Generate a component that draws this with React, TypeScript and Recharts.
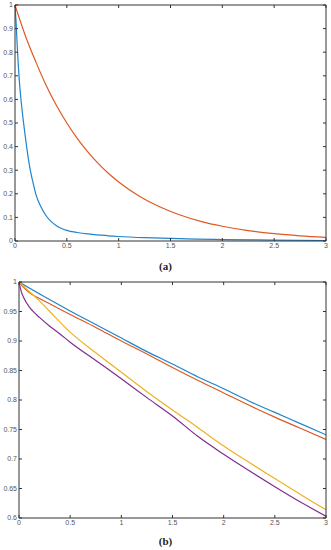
import { LineChart, Line, XAxis, YAxis } from 'recharts';

// panel (a)
const aBlueX = [0, 0.01, 0.02, 0.03, 0.04, 0.06, 0.08, 0.1, 0.125, 0.15, 0.175, 0.2, 0.25, 0.3, 0.35, 0.4, 0.45, 0.5, 0.6, 0.7, 0.8, 0.9, 1, 1.25, 1.5, 1.75, 2, 2.5, 3];
const aBlueY = [1, 0.93, 0.84, 0.76, 0.69, 0.59, 0.51, 0.44, 0.36, 0.295, 0.245, 0.2, 0.145, 0.107, 0.082, 0.065, 0.053, 0.045, 0.036, 0.03, 0.026, 0.022, 0.019, 0.014, 0.011, 0.008, 0.006, 0.004, 0.002];
const aOrangeX = [0, 0.1, 0.2, 0.3, 0.4, 0.5, 0.6, 0.7, 0.8, 0.9, 1, 1.2, 1.4, 1.6, 1.8, 2, 2.25, 2.5, 2.75, 3];
const aOrangeY = [1, 0.87, 0.76, 0.66, 0.574, 0.5, 0.435, 0.379, 0.33, 0.287, 0.25, 0.19, 0.144, 0.109, 0.082, 0.0625, 0.044, 0.031, 0.022, 0.0156];

// panel (b)
const bBlueX = [0, 0.25, 0.5, 0.75, 1, 1.25, 1.5, 1.75, 2, 2.25, 2.5, 2.75, 3];
const bBlueY = [1, 0.975, 0.951, 0.928, 0.905, 0.882, 0.861, 0.839, 0.819, 0.798, 0.779, 0.76, 0.741];
const bOrangeX = [0, 0.05, 0.1, 0.2, 0.3, 0.5, 0.75, 1, 1.25, 1.5, 1.75, 2, 2.25, 2.5, 2.75, 3];
const bOrangeY = [1, 0.99, 0.982, 0.972, 0.963, 0.945, 0.923, 0.9, 0.878, 0.855, 0.833, 0.812, 0.791, 0.771, 0.752, 0.733];
const bYellowX = [0, 0.1, 0.2, 0.3, 0.5, 0.75, 1, 1.25, 1.5, 1.75, 2, 2.25, 2.5, 2.75, 3];
const bYellowY = [1, 0.984, 0.968, 0.95, 0.915, 0.88, 0.847, 0.814, 0.783, 0.753, 0.722, 0.694, 0.667, 0.64, 0.614];
const bPurpleX = [0, 0.02, 0.05, 0.1, 0.15, 0.2, 0.3, 0.4, 0.5, 0.75, 1, 1.25, 1.5, 1.75, 2, 2.25, 2.5, 2.75, 3];
const bPurpleY = [1, 0.985, 0.972, 0.958, 0.948, 0.94, 0.925, 0.912, 0.898, 0.867, 0.836, 0.804, 0.773, 0.738, 0.708, 0.68, 0.653, 0.627, 0.603];

const xTicks = [0, 0.5, 1, 1.5, 2, 2.5, 3];
const aYTicks = [0, 0.1, 0.2, 0.3, 0.4, 0.5, 0.6, 0.7, 0.8, 0.9, 1];
const bYTicks = [0.6, 0.65, 0.7, 0.75, 0.8, 0.85, 0.9, 0.95, 1];

const toPoints = (xs: number[], ys: number[]) => xs.map((x, i) => ({ x, y: ys[i] }));

const BLUE = '#1f84cc';
const ORANGE = '#dc5a22';
const YELLOW = '#edb120';
const PURPLE = '#7e2f8e';
const AXIS = '#333';
const tickStyle = { fontSize: 7, fill: '#555', fontFamily: 'Liberation Sans, Arial, sans-serif' };

type Series = { xs: number[]; ys: number[]; color: string };

const Panel = ({ series, yTicks, yDomain, yWidth }: { series: Series[]; yTicks: number[]; yDomain: [number, number]; yWidth: number }) => (
  <LineChart width={331} height={255} margin={{ top: 4, right: 4, bottom: 0, left: 0 }}>
    <XAxis
      xAxisId="b"
      dataKey="x"
      type="number"
      domain={[0, 3]}
      ticks={xTicks}
      tickSize={-3}
      tickMargin={5}
      height={14}
      stroke={AXIS}
      tick={tickStyle}
      allowDataOverflow
    />
    <XAxis
      xAxisId="t"
      orientation="top"
      dataKey="x"
      type="number"
      domain={[0, 3]}
      ticks={xTicks}
      tickSize={-3}
      height={1}
      stroke={AXIS}
      tickFormatter={() => ''}
      allowDataOverflow
    />
    <YAxis
      yAxisId="l"
      type="number"
      domain={yDomain}
      ticks={yTicks}
      tickSize={-3}
      tickMargin={5}
      width={yWidth}
      stroke={AXIS}
      tick={tickStyle}
      allowDataOverflow
    />
    <YAxis
      yAxisId="r"
      orientation="right"
      type="number"
      domain={yDomain}
      ticks={yTicks}
      tickSize={-3}
      width={1}
      stroke={AXIS}
      tickFormatter={() => ''}
      allowDataOverflow
    />
    {/* invisible series so the top and right axes have something bound to them */}
    <Line
      xAxisId="t"
      yAxisId="r"
      data={toPoints(series[0].xs, series[0].ys)}
      dataKey="y"
      stroke="none"
      dot={false}
      activeDot={false}
      isAnimationActive={false}
    />
    {series.map((s, i) => (
      <Line
        key={i}
        xAxisId="b"
        yAxisId="l"
        data={toPoints(s.xs, s.ys)}
        dataKey="y"
        type="monotone"
        stroke={s.color}
        strokeWidth={1.2}
        dot={false}
        isAnimationActive={false}
      />
    ))}
  </LineChart>
);

const captionStyle: React.CSSProperties = {
  position: 'absolute',
  width: 331,
  textAlign: 'center',
  fontFamily: 'Liberation Serif, DejaVu Serif, serif',
  fontWeight: 'bold',
  fontSize: 11,
  color: '#222',
};

export default function App() {
  return (
    <div style={{ position: 'absolute', left: 0, top: 0, width: 331, height: 550, background: '#fff' }}>
      <div style={{ position: 'absolute', left: 0, top: 0 }}>
        <Panel
          series={[
            { xs: aOrangeX, ys: aOrangeY, color: ORANGE },
            { xs: aBlueX, ys: aBlueY, color: BLUE },
          ]}
          yTicks={aYTicks}
          yDomain={[0, 1]}
          yWidth={15}
        />
      </div>
      <div style={{ ...captionStyle, top: 260 }}>(a)</div>
      <div style={{ position: 'absolute', left: 0, top: 277 }}>
        <Panel
          series={[
            { xs: bBlueX, ys: bBlueY, color: BLUE },
            { xs: bOrangeX, ys: bOrangeY, color: ORANGE },
            { xs: bYellowX, ys: bYellowY, color: YELLOW },
            { xs: bPurpleX, ys: bPurpleY, color: PURPLE },
          ]}
          yTicks={bYTicks}
          yDomain={[0.6, 1]}
          yWidth={19}
        />
      </div>
      <div style={{ ...captionStyle, top: 535 }}>(b)</div>
    </div>
  );
}
